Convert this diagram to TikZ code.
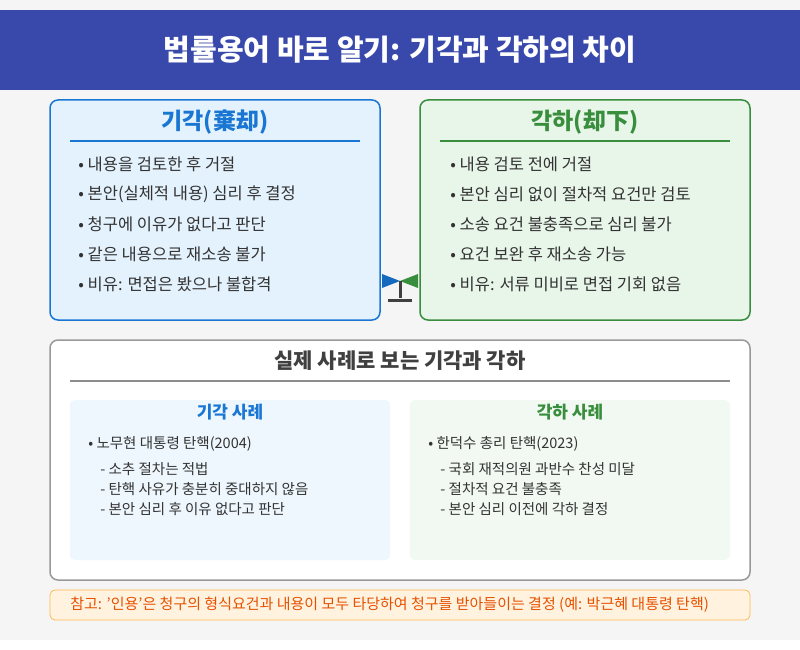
\documentclass[tikz,border=0pt]{standalone}
\usepackage{fontspec}
\setmainfont{Noto Sans CJK KR}
\definecolor{bannerblue}{HTML}{3949AB}
\definecolor{rejblue}{HTML}{1976D2}
\definecolor{rejfill}{HTML}{E3F2FD}
\definecolor{disgreen}{HTML}{388E3C}
\definecolor{disfill}{HTML}{E8F5E9}
\definecolor{textgray}{HTML}{333333}
\definecolor{notefill}{HTML}{FFF3E0}
\definecolor{noteline}{HTML}{FFB74D}
\definecolor{noteorange}{HTML}{E65100}
\tikzset{every picture/.style={line width=0.75pt}}
\tikzset{
  panel/.style={draw, rounded corners=8pt, line width=1.5pt},
  bullet/.style={anchor=west, font=\fontsize{16.5}{18}\selectfont, text=textgray, inner sep=0pt},
  caseitem/.style={anchor=west, font=\fontsize{14.5}{16}\selectfont, text=textgray, inner sep=0pt},
}
\begin{document}
\begin{tikzpicture}[x=1pt,y=-1pt]
        \useasboundingbox (0,0) rectangle (800,650);
        \fill [fill=black!4] (0,0) rectangle (800,640);
        % banner
        \fill [bannerblue] (0,10) rectangle (800,90);
        \node (title) [text=white, font=\bfseries\fontsize{29}{32}\selectfont] at (400,50) {법률용어 바로 알기: 기각과 각하의 차이};
        % rejection panel
        \draw [panel, draw=rejblue, fill=rejfill] (50,100) rectangle (380,320);
        \node (rejtitle) [text=rejblue, font=\bfseries\fontsize{23}{26}\selectfont] at (215,122) {기각(棄却)};
        \draw [rejblue, line width=1.5pt] (70,141) -- (360,141);
        \node (r1) [bullet] at (78,164) {• 내용을 검토한 후 거절};
        \node (r2) [bullet] at (78,194) {• 본안(실체적 내용) 심리 후 결정};
        \node (r3) [bullet] at (78,224) {• 청구에 이유가 없다고 판단};
        \node (r4) [bullet] at (78,254) {• 같은 내용으로 재소송 불가};
        \node (r5) [bullet] at (78,284) {• 비유: 면접은 봤으나 불합격};
        % dismissal panel
        \draw [panel, draw=disgreen, fill=disfill] (420,100) rectangle (750,320);
        \node (distitle) [text=disgreen, font=\bfseries\fontsize{23}{26}\selectfont] at (585,122) {각하(却下)};
        \draw [disgreen, line width=1.5pt] (440,141) -- (730,141);
        \node (d1) [bullet] at (450,164) {• 내용 검토 전에 거절};
        \node (d2) [bullet] at (450,194) {• 본안 심리 없이 절차적 요건만 검토};
        \node (d3) [bullet] at (450,224) {• 소송 요건 불충족으로 심리 불가};
        \node (d4) [bullet] at (450,254) {• 요건 보완 후 재소송 가능};
        \node (d5) [bullet] at (450,284) {• 비유: 서류 미비로 면접 기회 없음};
        % scale
        \fill [rejblue!90!black] (382,274) -- (400,281) -- (382,288) -- cycle;
        \fill [disgreen] (418,274) -- (400,281) -- (418,288) -- cycle;
        \draw [black!75, line width=3pt] (400,281) -- (400,298);
        \draw [black!75, line width=3pt] (388,300) -- (412,300);
        % cases
        \draw [rounded corners=8pt, draw=black!40, fill=white, line width=1.5pt] (50,340) rectangle (750,580);
        \node (casetitle) [text=black!75, font=\bfseries\fontsize{21}{24}\selectfont] at (400,361) {실제 사례로 보는 기각과 각하};
        \draw [black!45, line width=1.5pt] (70,381) -- (730,381);
        \fill [rounded corners=5pt, fill=rejfill!60] (70,400) rectangle (390,560);
        \fill [rounded corners=5pt, fill=disfill!60] (410,400) rectangle (730,560);
        \node (rejcase) [text=rejblue, font=\bfseries\fontsize{17}{20}\selectfont] at (230,412) {기각 사례};
        \node (discase) [text=disgreen, font=\bfseries\fontsize{17}{20}\selectfont] at (570,412) {각하 사례};
        \node (rc0) [caseitem] at (88,444) {• 노무현 대통령 탄핵(2004)};
        \node (rc1) [caseitem] at (100,469) {- 소추 절차는 적법};
        \node (rc2) [caseitem] at (100,489) {- 탄핵 사유가 충분히 중대하지 않음};
        \node (rc3) [caseitem] at (100,509) {- 본안 심리 후 이유 없다고 판단};
        \node (dc0) [caseitem] at (428,444) {• 한덕수 총리 탄핵(2023)};
        \node (dc1) [caseitem] at (440,469) {- 국회 재적의원 과반수 찬성 미달};
        \node (dc2) [caseitem] at (440,489) {- 절차적 요건 불충족};
        \node (dc3) [caseitem] at (440,509) {- 본안 심리 이전에 각하 결정};
        % note
        \draw [rounded corners=5pt, draw=noteline, fill=notefill] (50,590) rectangle (750,620);
        \node (note) [anchor=west, inner sep=0pt, text=noteorange, font=\fontsize{15}{17}\selectfont] at (70,605) {참고: '인용'은 청구의 형식요건과 내용이 모두 타당하여 청구를 받아들이는 결정 (예: 박근혜 대통령 탄핵)};
\end{tikzpicture}
\end{document}
